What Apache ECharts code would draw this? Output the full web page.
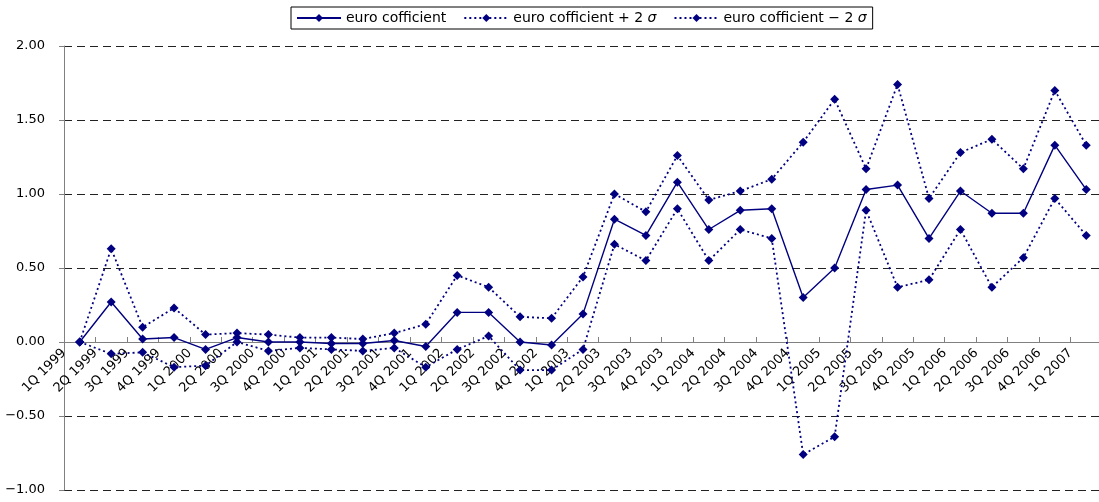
<!DOCTYPE html>
<html>
<head>
<meta charset="utf-8">
<title>euro cofficient</title>
<script src="https://cdn.jsdelivr.net/npm/echarts@6/dist/echarts.min.js"></script>
<style>
  html, body { margin: 0; padding: 0; background: #ffffff; }
  #chart { width: 1099px; height: 502px; }
</style>
</head>
<body>
<div id="chart"></div>
<script>
// Quarter labels (one per observation)
const quarters = [
  '1Q 1999', '2Q 1999', '3Q 1999', '4Q 1999',
  '1Q 2000', '2Q 2000', '3Q 2000', '4Q 2000',
  '1Q 2001', '2Q 2001', '3Q 2001', '4Q 2001',
  '1Q 2002', '2Q 2002', '3Q 2002', '4Q 2002',
  '1Q 2003', '2Q 2003', '3Q 2003', '4Q 2003',
  '1Q 2004', '2Q 2004', '3Q 2004', '4Q 2004',
  '1Q 2005', '2Q 2005', '3Q 2005', '4Q 2005',
  '1Q 2006', '2Q 2006', '3Q 2006', '4Q 2006',
  '1Q 2007'
];

// Estimated euro coefficient and its ±2σ band
const euroCoef = [
  0.00, 0.27, 0.02, 0.03, -0.05, 0.03, 0.00, 0.00, -0.01, -0.01, 0.01,
  -0.03, 0.20, 0.20, 0.00, -0.02, 0.19, 0.83, 0.72, 1.08, 0.76, 0.89,
  0.90, 0.30, 0.50, 1.03, 1.06, 0.70, 1.02, 0.87, 0.87, 1.33, 1.03
];
const euroCoefPlus2s = [
  0.00, 0.63, 0.10, 0.23, 0.05, 0.06, 0.05, 0.03, 0.03, 0.02, 0.06,
  0.12, 0.45, 0.37, 0.17, 0.16, 0.44, 1.00, 0.88, 1.26, 0.96, 1.02,
  1.10, 1.35, 1.64, 1.17, 1.74, 0.97, 1.28, 1.37, 1.17, 1.70, 1.33
];
const euroCoefMinus2s = [
  0.00, -0.08, -0.07, -0.17, -0.16, 0.00, -0.06, -0.04, -0.05, -0.06, -0.04,
  -0.17, -0.05, 0.04, -0.19, -0.19, -0.05, 0.66, 0.55, 0.90, 0.55, 0.76,
  0.70, -0.76, -0.64, 0.89, 0.37, 0.42, 0.76, 0.37, 0.57, 0.97, 0.72
];

// Value axis range
const yMin = -1.0;
const yMax = 2.0;
const yStep = 0.5;

const NAVY = '#000080';
const FONT = 'DejaVu Sans';

// Plot box
const GRID = { left: 64, top: 46, width: 1038, height: 444 };
// distance from the bottom of the plot up to the zero line
const zeroLift = GRID.height * (0 - yMin) / (yMax - yMin);

const names = [
  'euro cofficient',
  'euro cofficient + 2 σ',
  'euro cofficient \u2212 2 σ'
];

// Labels sit on the band boundaries, so the label axis has one extra slot
const boundaryLabels = quarters.concat(['']);

const chart = echarts.init(document.getElementById('chart'), null, { renderer: 'canvas' });

const lineSeries = (name, data, dotted) => ({
  name: name,
  type: 'line',
  xAxisIndex: 0,
  yAxisIndex: 0,
  data: data,
  symbol: 'diamond',
  symbolSize: 9,
  showAllSymbol: true,
  itemStyle: { color: NAVY },
  lineStyle: dotted
    ? { color: NAVY, width: 1.8, type: [2, 3] }
    : { color: NAVY, width: 1.4, type: 'solid' },
  emphasis: { disabled: true },
  animation: false
});

chart.setOption({
  backgroundColor: '#ffffff',
  animation: false,
  textStyle: { fontFamily: FONT },
  legend: {
    data: names,
    left: 291,
    top: 7,
    padding: [4, 6, 4, 5],
    itemWidth: 44,
    itemHeight: 10,
    itemGap: 17,
    borderColor: '#000000',
    borderWidth: 1,
    borderRadius: 0,
    formatter: n => n.replace('σ', '{s|σ}'),
    textStyle: {
      fontFamily: FONT,
      fontSize: 14,
      color: '#000000',
      rich: {
        s: { fontFamily: FONT, fontSize: 14, fontStyle: 'italic', color: '#000000' }
      }
    }
  },
  grid: Object.assign({}, GRID, { containLabel: false, outerBoundsMode: 'none' }),
  xAxis: [
    {
      // band axis carrying the data and the tick marks
      type: 'category',
      data: quarters,
      boundaryGap: true,
      position: 'bottom',
      axisLine: { show: true, onZero: true, lineStyle: { color: '#808080', width: 1 } },
      axisTick: { show: true, inside: true, length: 5, interval: 0, lineStyle: { color: '#808080' } },
      axisLabel: { show: false },
      splitLine: { show: false }
    },
    {
      // label axis: one label per band boundary, raised onto the zero line
      type: 'category',
      data: boundaryLabels,
      boundaryGap: false,
      position: 'bottom',
      offset: -zeroLift,
      axisLine: { show: false, onZero: false },
      axisTick: { show: false },
      splitLine: { show: false },
      axisLabel: {
        show: true,
        interval: 0,
        rotate: 45,
        margin: 9,
        fontFamily: FONT,
        fontSize: 13,
        color: '#000000'
      }
    }
  ],
  yAxis: {
    type: 'value',
    min: yMin,
    max: yMax,
    interval: yStep,
    axisLine: { show: true, onZero: false, lineStyle: { color: '#808080', width: 1 } },
    axisTick: { show: true, inside: false, length: 5, lineStyle: { color: '#808080' } },
    axisLabel: {
      margin: 19,
      fontFamily: FONT,
      fontSize: 13,
      color: '#000000',
      formatter: v => (v < 0 ? '\u2212' : '') + Math.abs(v).toFixed(2)
    },
    splitLine: {
      show: true,
      lineStyle: { color: '#222222', width: 1, type: [8, 5] }
    }
  },
  series: [
    lineSeries(names[0], euroCoef, false),
    lineSeries(names[1], euroCoefPlus2s, true),
    lineSeries(names[2], euroCoefMinus2s, true)
  ]
});
</script>
</body>
</html>
